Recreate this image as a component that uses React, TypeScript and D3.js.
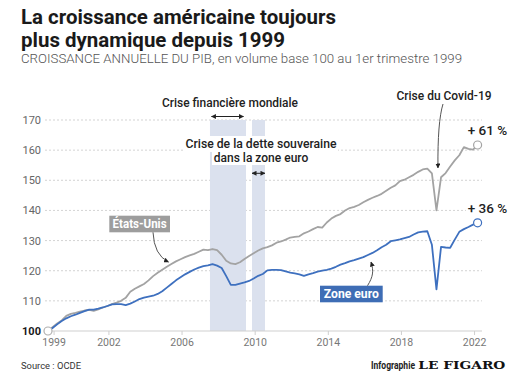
import React from 'react';
import * as d3 from 'd3';

// Quarterly values, base 100 at Q1 1999 (1999Q1 .. 2022Q3)
const START_YEAR = 1999;
const usValues = [
  100, 101.3, 102.5, 103.5, 105.0, 105.7, 106.0, 106.4, 106.8, 107.0,
  106.7, 107.2, 107.8, 108.3, 108.9, 109.4, 110.0, 111.0, 113.0, 114.0,
  114.8, 115.6, 116.8, 118.2, 119.3, 120.3, 121.3, 122.2, 123.1, 123.8,
  124.5, 125.1, 125.6, 126.3, 127.0, 126.8, 127.2, 126.8, 125.3, 123.3,
  122.4, 122.2, 122.8, 123.9, 124.9, 125.8, 126.7, 127.4, 127.8, 128.4,
  129.3, 129.7, 130.3, 131.0, 131.2, 131.4, 132.4, 133.0, 133.8, 134.5,
  134.3, 136.0, 137.3, 138.2, 138.8, 140.0, 140.8, 141.2, 141.8, 142.7,
  143.5, 144.2, 144.8, 145.5, 146.5, 147.5, 148.3, 149.7, 150.2, 151.0,
  151.8, 152.8, 153.6, 153.9, 152.3, 140.0, 151.0, 152.4, 154.6, 156.6,
  158.3, 161.0, 160.4, 160.2, 161.7,
];
const euroValues = [
  100, 101.0, 102.2, 103.3, 104.2, 104.9, 105.4, 106.0, 106.6, 107.1,
  107.1, 107.4, 107.8, 108.3, 108.8, 108.9, 108.9, 108.6, 109.1, 109.8,
  110.6, 111.1, 111.4, 111.7, 112.3, 113.2, 114.4, 115.6, 116.8, 117.8,
  118.8, 119.6, 120.4, 121.0, 121.5, 121.8, 122.2, 121.7, 120.9, 118.2,
  115.3, 115.3, 115.7, 116.1, 116.6, 117.4, 118.3, 118.9, 120.1, 120.3,
  120.3, 120.2, 119.8, 119.4, 119.1, 118.8, 118.3, 118.8, 119.2, 119.7,
  120.0, 120.3, 120.7, 121.3, 122.0, 122.5, 123.1, 123.5, 124.0, 124.5,
  125.2, 125.9, 126.8, 127.8, 128.6, 129.8, 130.1, 130.4, 130.8, 131.2,
  132.0, 132.7, 133.0, 133.1, 128.6, 113.8, 127.9, 127.7, 127.6, 130.3,
  132.9, 133.8, 134.5, 135.3, 135.9,
];
const yTicks = [100, 110, 120, 130, 140, 150, 160, 170];
const xTickYears = [1999, 2002, 2006, 2010, 2014, 2018, 2022];
const xTickLabels = ['1999', '2002', '2006', '2010', '2014', '2018', '2022'];
const crisisStarts = [2007.86, 2010.16];
const crisisEnds = [2009.83, 2010.87];
const endLabels = ['+ 61 %', '+ 36 %'];

const FONT = 'Roboto, "Noto Sans", sans-serif';
const BLUE = '#3e70bf';
const GREY = '#a3a3a3';
const BAND = '#dbe1ee';

export default function App() {
  const W = 528;
  const H = 380;
  const x = d3.scaleLinear().domain([1999, 2022.5]).range([48, 477.6]);
  const y = d3.scaleLinear().domain([100, 170]).range([331, 120]);
  const tickShift = 1 / 3;
  const gridX0 = 45;
  const gridX1 = 482;

  const toPts = (vals: number[]) => vals.map((v, i) => ({ t: START_YEAR + i / 4, v }));
  const us = toPts(usValues);
  const eu = toPts(euroValues);
  const line = d3
    .line<{ t: number; v: number }>()
    .x((d) => x(d.t))
    .y((d) => y(d.v));

  const usLast = us[us.length - 1];
  const euLast = eu[eu.length - 1];

  const finX0 = x(crisisStarts[0]);
  const finX1 = x(crisisEnds[0]);
  const euX0 = x(crisisStarts[1]);
  const euX1 = x(crisisEnds[1]);
  const covidX = x(2020.25);

  return (
    <svg
      width={W}
      height={H}
      style={{ position: 'absolute', left: 0, top: 0, background: '#fff' }}
      fontFamily={FONT}
    >
      <defs>
        <marker id="ah" viewBox="0 0 10 10" refX="9" refY="5" markerWidth="5" markerHeight="5" orient="auto-start-reverse">
          <path d="M0,0 L10,5 L0,10 z" fill="#222" />
        </marker>
      </defs>

      {/* Title */}
      <text x={21} y={23.5} fontSize={20} fontWeight={700} fill="#1a1a1a" textLength={315} lengthAdjust="spacingAndGlyphs">
        La croissance américaine toujours
      </text>
      <text x={21} y={46.5} fontSize={20} fontWeight={700} fill="#1a1a1a" textLength={264} lengthAdjust="spacingAndGlyphs">
        plus dynamique depuis 1999
      </text>
      <text x={21} y={62.5} fontSize={12.5} fontWeight={300} fill="#555" textLength={441} lengthAdjust="spacingAndGlyphs">
        CROISSANCE ANNUELLE DU PIB, en volume base 100 au 1er trimestre 1999
      </text>

      {/* Grid */}
      {yTicks.slice(1).map((v) => (
        <line key={v} x1={gridX0} x2={gridX1} y1={y(v)} y2={y(v)} stroke="#c8c8c8" strokeWidth={0.8} strokeDasharray="2,2" />
      ))}

      {/* Crisis bands */}
      {crisisStarts.map((s, i) => (
        <rect key={i} x={x(s)} y={y(170)} width={x(crisisEnds[i]) - x(s)} height={y(100) - y(170)} fill={BAND} />
      ))}

      {/* Axis */}
      <line x1={gridX0} x2={gridX1} y1={y(100)} y2={y(100)} stroke="#cfcfcf" strokeWidth={1} />
      {xTickYears.map((yr, i) => {
        const tx = x(yr + tickShift);
        return (
          <g key={yr}>
            <line x1={tx} x2={tx} y1={y(100)} y2={y(100) + 4} stroke="#cfcfcf" />
            <text x={tx} y={346} fontSize={10.5} fill="#777" textAnchor="middle">
              {xTickLabels[i]}
            </text>
          </g>
        );
      })}
      {yTicks.map((v) => (
        <text
          key={v}
          x={41}
          y={y(v) + 4}
          fontSize={11}
          textAnchor="end"
          fill={v === 100 ? '#1a1a1a' : '#666'}
          fontWeight={v === 100 ? 700 : 400}
        >
          {v}
        </text>
      ))}

      {/* Lines */}
      <path d={line(us) || ''} fill="none" stroke={GREY} strokeWidth={1.8} strokeLinejoin="round" />
      <path d={line(eu) || ''} fill="none" stroke={BLUE} strokeWidth={1.8} strokeLinejoin="round" />

      <circle cx={x(us[0].t)} cy={y(us[0].v)} r={4} fill="#fff" stroke="#b0b0b0" strokeWidth={1.2} />
      <circle cx={x(usLast.t)} cy={y(usLast.v)} r={4} fill="#fff" stroke={GREY} strokeWidth={1.2} />
      <circle cx={x(euLast.t)} cy={y(euLast.v)} r={4} fill="#fff" stroke={BLUE} strokeWidth={1.2} />

      {/* End labels */}
      <text x={487.5} y={135} fontSize={13.5} fontWeight={500} fill="#222" textAnchor="middle">
        {endLabels[0]}
      </text>
      <rect x={466} y={202} width={44} height={14} fill="#fff" />
      <text x={487.5} y={213} fontSize={13.5} fontWeight={500} fill="#222" textAnchor="middle">
        {endLabels[1]}
      </text>

      {/* Crisis annotations */}
      <text x={230} y={107} fontSize={12} fontWeight={500} fill="#222" textAnchor="middle" textLength={136} lengthAdjust="spacingAndGlyphs">
        Crise financière mondiale
      </text>
      <line x1={finX0 + 1.5} x2={finX1 - 2.5} y1={116.5} y2={116.5} stroke="#222" strokeWidth={1} markerStart="url(#ah)" markerEnd="url(#ah)" />

      <rect x={184} y={136} width={154} height={16} fill="#fff" />
      <rect x={212} y={152} width={98} height={13} fill="#fff" />
      <text x={261} y={147.5} fontSize={12} fontWeight={500} fill="#222" textAnchor="middle" textLength={151} lengthAdjust="spacingAndGlyphs">
        Crise de la dette souveraine
      </text>
      <text x={261} y={161.5} fontSize={12} fontWeight={500} fill="#222" textAnchor="middle">
        dans la zone euro
      </text>
      <line x1={euX0} x2={euX1} y1={173.3} y2={173.3} stroke="#222" strokeWidth={1} markerStart="url(#ah)" markerEnd="url(#ah)" />

      <text x={444} y={100} fontSize={12} fontWeight={500} fill="#222" textAnchor="middle" textLength={95} lengthAdjust="spacingAndGlyphs">
        Crise du Covid-19
      </text>
      <path d={`M443,104 Q${covidX + 1},122 ${covidX + 1.5},168`} fill="none" stroke="#555" strokeWidth={1} markerEnd="url(#ah)" />

      {/* Series labels */}
      <rect x={109.3} y={215.7} width={60.7} height={16.6} fill="#9d9d9d" />
      <text x={139.6} y={228.3} fontSize={12.5} fontWeight={700} fill="#fff" textAnchor="middle" textLength={54} lengthAdjust="spacingAndGlyphs">
        États-Unis
      </text>
      <path d="M153,232.3 Q154,255 168.5,262" fill="none" stroke="#555" strokeWidth={1} markerEnd="url(#ah)" />

      <rect x={320} y={285.7} width={62.7} height={16.6} fill="#3e6db5" />
      <text x={351.3} y={298.3} fontSize={12.5} fontWeight={700} fill="#fff" textAnchor="middle" textLength={55} lengthAdjust="spacingAndGlyphs">
        Zone euro
      </text>
      <path d="M367.5,285.7 C373,277 374,271 371,262" fill="none" stroke="#555" strokeWidth={1} markerEnd="url(#ah)" />

      {/* Footer */}
      <text x={21} y={369} fontSize={9.5} fill="#333" textLength={60} lengthAdjust="spacingAndGlyphs">
        Source : OCDE
      </text>
      <text x={371} y={369} fontSize={10} fontWeight={700} fill="#222" textLength={44} lengthAdjust="spacingAndGlyphs">
        Infographie
      </text>
      <text x={418.3} y={369} fontSize={11.5} fontWeight={700} fill="#111" fontFamily='"DejaVu Serif", serif' textLength={87} lengthAdjust="spacingAndGlyphs">
        LE FIGARO
      </text>
    </svg>
  );
}
